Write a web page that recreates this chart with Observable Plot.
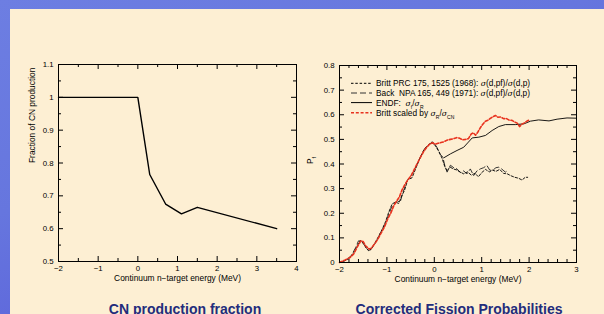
<!DOCTYPE html>
<html>
<head>
<meta charset="utf-8">
<script src="https://cdn.jsdelivr.net/npm/d3@7"></script>
<script src="https://cdn.jsdelivr.net/npm/@observablehq/plot@0.6"></script>
<style>
  html, body { margin: 0; padding: 0; }
  body { width: 604px; height: 314px; overflow: hidden; position: relative;
         background: linear-gradient(160deg, #6d7ee2 0%, #6676de 40%, #5454d8 100%);
         font-family: "Liberation Sans", Arial, Helvetica, sans-serif; }
  #panel { position: absolute; left: 10px; top: 9px; width: 594px; height: 305px; background: #fdefd3; }
  .chart { position: absolute; top: 0; }
  .title { position: absolute; top: 302px; font-weight: bold; font-size: 14px; line-height: 14px;
           color: #232c7c; white-space: nowrap; transform: translateX(-50%); }
</style>
</head>
<body>
<div id="panel"></div>
<div id="left" class="chart" style="left:0px"></div>
<div id="right" class="chart" style="left:300px"></div>
<div class="title" style="left:185px">CN production fraction</div>
<div class="title" style="left:459px">Corrected Fission Probabilities</div>
<script>
// ---------- Left chart data: CN production fraction ----------
const cnEnergy = [-2, 0, 0.3, 0.7, 1.1, 1.5, 3.5];
const cnFraction = [1, 1, 0.765, 0.675, 0.645, 0.665, 0.6];
const leftXTicks = [-2, -1, 0, 1, 2, 3, 4];
const leftXMinor = [-1.5, -0.5, 0.5, 1.5, 2.5, 3.5];
const leftYTicks = [0.5, 0.6, 0.7, 0.8, 0.9, 1, 1.1];
const leftYMinor = [0.55, 0.65, 0.75, 0.85, 0.95, 1.05];
const leftYTickLabels = ["0.5", "0.6", "0.7", "0.8", "0.9", "1", "1.1"];

// ---------- Right chart data: fission probabilities ----------
const brittX = [-2, -1.9, -1.8, -1.7, -1.62, -1.56, -1.5, -1.44, -1.39, -1.33, -1.25, -1.18, -1.1, -1.03, -0.96, -0.89, -0.82, -0.75, -0.69, -0.63, -0.56, -0.47, -0.38, -0.3, -0.22, -0.14, -0.06, 0.02, 0.1, 0.17, 0.22, 0.27, 0.33, 0.4, 0.47, 0.55, 0.62, 0.7, 0.78, 0.86, 0.93, 1.0, 1.08, 1.16, 1.23, 1.3, 1.38, 1.46, 1.54, 1.62, 1.7, 1.78, 1.85, 1.92, 1.97];
const brittY = [0.0, 0.006, 0.016, 0.04, 0.07, 0.09, 0.078, 0.06, 0.048, 0.055, 0.08, 0.105, 0.135, 0.165, 0.205, 0.238, 0.245, 0.24, 0.27, 0.292, 0.336, 0.344, 0.387, 0.425, 0.458, 0.475, 0.488, 0.475, 0.45, 0.42, 0.39, 0.372, 0.388, 0.38, 0.376, 0.367, 0.36, 0.368, 0.355, 0.362, 0.348, 0.365, 0.378, 0.368, 0.375, 0.37, 0.378, 0.362, 0.36, 0.352, 0.346, 0.342, 0.335, 0.346, 0.346];
const backX = [-2, -1.86, -1.75, -1.66, -1.6, -1.54, -1.47, -1.41, -1.35, -1.27, -1.2, -1.12, -1.04, -0.97, -0.9, -0.84, -0.78, -0.72, -0.66, -0.58, -0.5, -0.42, -0.34, -0.26, -0.18, -0.1, -0.03, 0.05, 0.12, 0.18, 0.22, 0.27, 0.34, 0.41, 0.48, 0.55, 0.62, 0.69, 0.76, 0.83, 0.9, 0.97, 1.04, 1.11, 1.17, 1.23, 1.3, 1.36, 1.42, 1.5, 1.56];
const backY = [0.0, 0.01, 0.028, 0.06, 0.088, 0.086, 0.07, 0.052, 0.05, 0.07, 0.095, 0.125, 0.155, 0.19, 0.225, 0.24, 0.25, 0.245, 0.285, 0.33, 0.35, 0.375, 0.41, 0.44, 0.468, 0.48, 0.49, 0.47, 0.44, 0.428, 0.395, 0.367, 0.395, 0.385, 0.38, 0.365, 0.372, 0.36, 0.38, 0.353, 0.372, 0.38, 0.385, 0.394, 0.375, 0.374, 0.385, 0.387, 0.38, 0.367, 0.375];
const endfX = [0.2, 0.34, 0.48, 0.62, 0.72, 0.8, 0.94, 1.08, 1.22, 1.36, 1.5, 1.71, 1.89, 2.03, 2.2, 2.42, 2.59, 2.8, 3.0];
const endfY = [0.425, 0.441, 0.455, 0.468, 0.489, 0.506, 0.509, 0.516, 0.536, 0.552, 0.56, 0.56, 0.563, 0.574, 0.579, 0.575, 0.582, 0.587, 0.586];
const scaledX = [-2, -1.88, -1.78, -1.7, -1.62, -1.55, -1.5, -1.45, -1.38, -1.33, -1.26, -1.2, -1.12, -1.05, -0.98, -0.92, -0.86, -0.8, -0.74, -0.68, -0.61, -0.55, -0.49, -0.43, -0.36, -0.29, -0.22, -0.16, -0.1, -0.04, 0.02, 0.08, 0.14, 0.2, 0.27, 0.34, 0.41, 0.47, 0.53, 0.6, 0.66, 0.72, 0.78, 0.82, 0.87, 0.92, 0.97, 1.03, 1.08, 1.13, 1.18, 1.24, 1.29, 1.34, 1.4, 1.46, 1.52, 1.58, 1.64, 1.7, 1.75, 1.8, 1.85, 1.9, 1.96, 2.01];
const scaledY = [0.0, 0.01, 0.02, 0.035, 0.065, 0.088, 0.085, 0.068, 0.055, 0.058, 0.075, 0.092, 0.12, 0.145, 0.178, 0.2, 0.228, 0.248, 0.265, 0.295, 0.32, 0.338, 0.352, 0.375, 0.402, 0.428, 0.452, 0.468, 0.48, 0.486, 0.48, 0.484, 0.487, 0.49, 0.497, 0.5, 0.503, 0.507, 0.505, 0.498, 0.5, 0.503, 0.522, 0.527, 0.517, 0.53, 0.547, 0.563, 0.574, 0.578, 0.585, 0.592, 0.597, 0.59, 0.591, 0.584, 0.585, 0.578, 0.577, 0.57, 0.566, 0.552, 0.562, 0.567, 0.575, 0.579];
const rightXTicks = [-2, -1, 0, 1, 2, 3];
const rightXMinor = [-1.8, -1.6, -1.4, -1.2, -0.8, -0.6, -0.4, -0.2, 0.2, 0.4, 0.6, 0.8, 1.2, 1.4, 1.6, 1.8, 2.2, 2.4, 2.6, 2.8];
const rightYTicks = [0, 0.1, 0.2, 0.3, 0.4, 0.5, 0.6, 0.7, 0.8];
const rightYMinor = [0.05, 0.15, 0.25, 0.35, 0.45, 0.55, 0.65, 0.75];
const rightYTickLabels = ["0", "0.1", "0.2", "0.3", "0.4", "0.5", "0.6", "0.7", "0.8"];

const legendItems = [
  {html: 'Britt PRC 175, 1525 (1968): <tspan class="sg">σ</tspan>(d,pf)/<tspan class="sg">σ</tspan>(d,p)', stroke: "#000", dash: "2.5,1.8", width: 1},
  {html: 'Back&#160; NPA 165, 449 (1971): <tspan class="sg">σ</tspan>(d,pf)/<tspan class="sg">σ</tspan>(d,p)', stroke: "#333", dash: "6,3", width: 1},
  {html: 'ENDF:&#160; <tspan class="sg">σ</tspan><tspan baseline-shift="sub" font-size="5">f</tspan>/<tspan class="sg">σ</tspan><tspan baseline-shift="sub" font-size="5">R</tspan>', stroke: "#000", dash: null, width: 1},
  {html: 'Britt scaled by <tspan class="sg">σ</tspan><tspan baseline-shift="sub" font-size="5">R</tspan>/<tspan class="sg">σ</tspan><tspan baseline-shift="sub" font-size="5">CN</tspan>', stroke: "#e8321e", dash: "3,1.8", width: 1.6}
];

const font = '"Liberation Sans", Arial, Helvetica, sans-serif';
const minus = d => (d < 0 ? "\u2212" + (-d) : String(d));
const toRows = (xs, ys) => xs.map((x, i) => ({x, y: ys[i]}));

// inward frame ticks (pixel lengths via insets)
function frameTicks(W, H, xMaj, xMin, yMaj, yMin) {
  const maj = 5, mn = 3;
  return [
    Plot.tickX(xMaj, {x: d => d, insetTop: H - maj, stroke: "black"}),
    Plot.tickX(xMaj, {x: d => d, insetBottom: H - maj, stroke: "black"}),
    Plot.tickX(xMin, {x: d => d, insetTop: H - mn, stroke: "black"}),
    Plot.tickX(xMin, {x: d => d, insetBottom: H - mn, stroke: "black"}),
    Plot.tickY(yMaj, {y: d => d, insetRight: W - maj, stroke: "black"}),
    Plot.tickY(yMaj, {y: d => d, insetLeft: W - maj, stroke: "black"}),
    Plot.tickY(yMin, {y: d => d, insetRight: W - mn, stroke: "black"}),
    Plot.tickY(yMin, {y: d => d, insetLeft: W - mn, stroke: "black"})
  ];
}

// ---------- Left plot ----------
{
  const W = 310, H = 290, mL = 58, mR = 14, mT = 64, mB = 29;
  const fw = W - mL - mR, fh = H - mT - mB;
  const plot = Plot.plot({
    width: W, height: H,
    marginLeft: mL, marginRight: mR, marginTop: mT, marginBottom: mB,
    style: {background: "transparent", fontFamily: font, color: "black"},
    x: {domain: [-2, 4]},
    y: {domain: [0.5, 1.1]},
    marks: [
      Plot.axisX({ticks: leftXTicks, tickSize: 0, tickPadding: 4, tickFormat: minus, fontSize: 7.8, label: null}),
      Plot.axisY({ticks: leftYTicks, tickSize: 0, tickPadding: 5, tickFormat: d => leftYTickLabels[leftYTicks.indexOf(d)], fontSize: 7.8, label: null}),
      Plot.line(toRows(cnEnergy, cnFraction), {x: "x", y: "y", stroke: "black", strokeWidth: 1.4}),
      ...frameTicks(fw, fh, leftXTicks, leftXMinor, leftYTicks, leftYMinor),
      Plot.frame({stroke: "black", strokeWidth: 1}),
      Plot.text(["Continuum n\u2212target energy (MeV)"], {frameAnchor: "bottom", dy: 19, fontSize: 8.4, fill: "black"}),
      Plot.text(["Fraction of CN production"], {frameAnchor: "left", dx: -26, rotate: -90, fontSize: 8.4, fill: "black"})
    ]
  });
  document.getElementById("left").appendChild(plot);
}

// ---------- Right plot ----------
{
  const W = 304, H = 290, mL = 39, mR = 28, mT = 65, mB = 28;
  const fw = W - mL - mR, fh = H - mT - mB;
  const plot = Plot.plot({
    width: W, height: H,
    marginLeft: mL, marginRight: mR, marginTop: mT, marginBottom: mB,
    style: {background: "transparent", fontFamily: font, color: "black"},
    x: {domain: [-2, 3]},
    y: {domain: [0, 0.8]},
    marks: [
      Plot.axisX({ticks: rightXTicks, tickSize: 0, tickPadding: 4, tickFormat: minus, fontSize: 7.8, label: null}),
      Plot.axisY({ticks: rightYTicks, tickSize: 0, tickPadding: 5, tickFormat: d => rightYTickLabels[rightYTicks.indexOf(d)], fontSize: 7.8, label: null}),
      Plot.line(toRows(endfX, endfY), {x: "x", y: "y", stroke: "black", strokeWidth: 0.9}),
      Plot.line(toRows(backX, backY), {x: "x", y: "y", stroke: "#222", strokeWidth: 0.9, strokeDasharray: "6,3"}),
      Plot.line(toRows(brittX, brittY), {x: "x", y: "y", stroke: "black", strokeWidth: 0.9, strokeDasharray: "2.5,1.8"}),
      Plot.line(toRows(scaledX, scaledY), {x: "x", y: "y", stroke: "#e8321e", strokeWidth: 1.6, strokeDasharray: "3,1.8"}),
      ...frameTicks(fw, fh, rightXTicks, rightXMinor, rightYTicks, rightYMinor),
      Plot.frame({stroke: "black", strokeWidth: 1}),
      Plot.text(["Continuum n\u2212target energy (MeV)"], {frameAnchor: "bottom", dy: 19, fontSize: 8.4, fill: "black"}),
      Plot.text(["Pf"], {frameAnchor: "left", dx: -29, rotate: -90, fontSize: 8.4, fill: "black"})
    ]
  });
  document.getElementById("right").appendChild(plot);
  const svg = d3.select(plot);
  // subscript on y label
  svg.selectAll("text").filter(function () { return this.textContent === "Pf"; })
    .html('P<tspan baseline-shift="sub" font-size="5.5">f</tspan>');
  // legend
  const lg = svg.append("g").attr("font-family", font).attr("font-size", 8.3).attr("text-anchor", "start");
  const rowY = [83.3, 93, 102.6, 112.7];
  legendItems.forEach((it, i) => {
    lg.append("line").attr("x1", 51).attr("x2", 72).attr("y1", rowY[i]).attr("y2", rowY[i])
      .attr("stroke", it.stroke).attr("stroke-width", it.width)
      .attr("stroke-dasharray", it.dash);
    lg.append("text").attr("x", 76).attr("y", rowY[i]).attr("dy", "0.35em")
      .attr("text-anchor", "start").attr("fill", "black").html(it.html);
  });
  lg.selectAll(".sg").attr("font-family", '"DejaVu Serif", "Liberation Serif", serif').attr("font-style", "italic").attr("font-size", 7.8);
}
</script>
</body>
</html>
